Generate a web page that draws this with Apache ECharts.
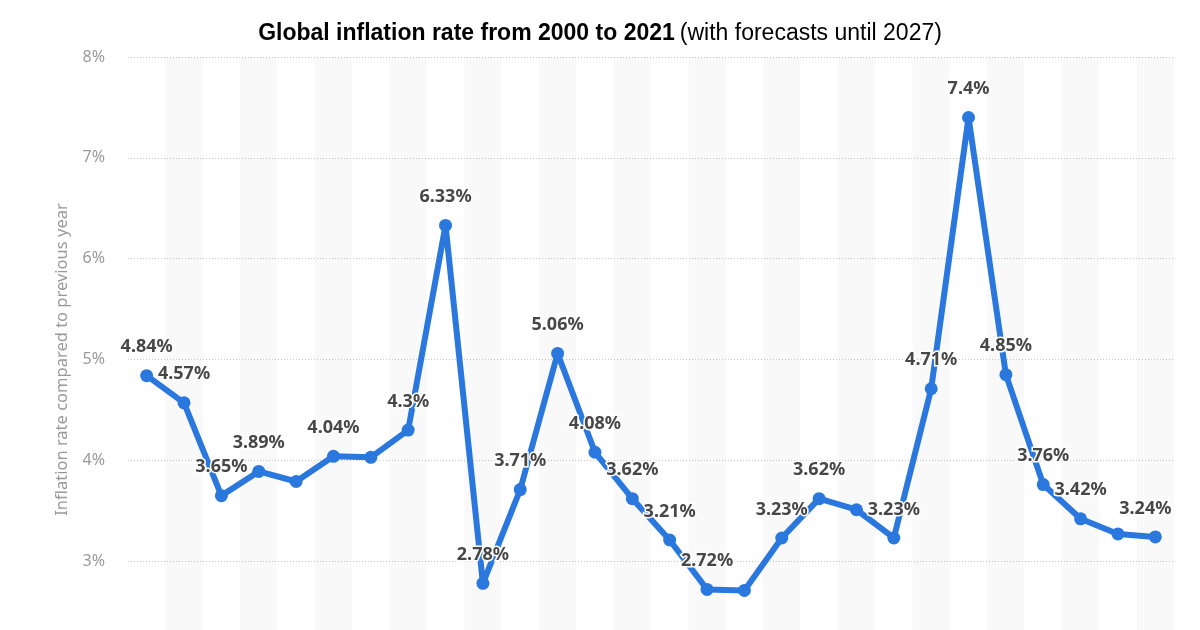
<!DOCTYPE html>
<html>
<head>
<meta charset="utf-8">
<script src="https://cdn.jsdelivr.net/npm/echarts@6/dist/echarts.min.js"></script>
<style>html,body{margin:0;padding:0;background:#fff;overflow:hidden;}#c{width:1200px;height:720px;}</style>
</head>
<body>
<div id="c"></div>
<script>
const years = ['2000','2001','2002','2003','2004','2005','2006','2007','2008','2009','2010','2011','2012','2013','2014','2015','2016','2017','2018','2019','2020','2021','2022*','2023*','2024*','2025*','2026*','2027*'];
const inflation = [4.84,4.57,3.65,3.89,3.79,4.04,4.03,4.3,6.33,2.78,3.71,5.06,4.08,3.62,3.21,2.72,2.71,3.23,3.62,3.51,3.23,4.71,7.4,4.85,3.76,3.42,3.27,3.24];
const labelled = [true,true,true,true,false,true,false,true,true,true,true,true,true,true,true,true,false,true,true,false,true,true,true,true,true,true,false,true];
const yTicks = [2,3,4,5,6,7,8];

const chart = echarts.init(document.getElementById('c'));
const data = inflation.map((v,i)=>{
  const d = {value: v};
  if (!labelled[i]) d.label = {show:false};
  if (i === inflation.length-1) d.label = {show:true, offset:[-10,0]};
  return d;
});
chart.setOption({
  animation:false,
  title:{
    text:'{b|Global inflation rate from 2000 to 2021} {n|(with forecasts until 2027)}',
    left:'center', top:17,
    textStyle:{rich:{
      b:{fontFamily:'Liberation Sans, Arial, sans-serif',fontWeight:'bold',fontSize:23,color:'#000'},
      n:{fontFamily:'Liberation Sans, Arial, sans-serif',fontWeight:'normal',fontSize:23,color:'#000'}
    }}
  },
  grid:{left:128,right:26,top:57,bottom:58,containLabel:false},
  xAxis:{
    type:'category',data:years,boundaryGap:true,
    axisLine:{show:false},axisTick:{show:false},
    axisLabel:{color:'#999',fontSize:14,interval:0},
    splitArea:{show:true,interval:0,areaStyle:{color:['rgba(0,0,0,0)','rgba(0,0,0,0.022)']}}
  },
  yAxis:{
    type:'value',min:yTicks[0],max:yTicks[yTicks.length-1],interval:1,
    name:'Inflation rate compared to previous year',nameLocation:'middle',nameGap:57,nameRotate:90,
    nameTextStyle:{color:'#999',fontSize:16.5,fontFamily:'Noto Sans, Open Sans, sans-serif'},
    axisLine:{show:false},axisTick:{show:false},
    axisLabel:{color:'#999',fontSize:16,margin:23,fontFamily:'Noto Sans, Open Sans, sans-serif',formatter:v=>v+'%'},
    splitLine:{show:true,lineStyle:{color:'#c8c8c8',type:[1,2],width:1}}
  },
  series:[{
    type:'line',data:data,
    lineStyle:{color:'#2a78de',width:6},
    itemStyle:{color:'#2a78de'},
    symbol:'circle',symbolSize:13,
    label:{show:true,position:'top',distance:13,formatter:p=>p.value+'%',
      color:'#474747',fontSize:18,fontWeight:'bold',fontFamily:'Noto Sans, Open Sans, sans-serif',
      textBorderColor:'#fff',textBorderWidth:3}
  }]
});
</script>
</body>
</html>
